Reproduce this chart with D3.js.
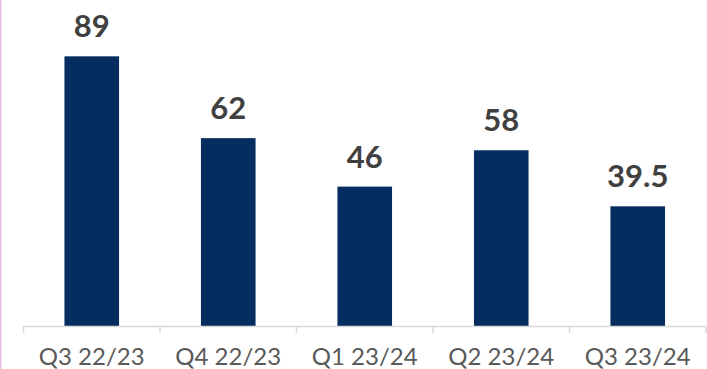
<!DOCTYPE html>
<html>
<head>
<meta charset="utf-8">
<script src="https://cdn.jsdelivr.net/npm/d3@7"></script>
<style>
  body { margin: 0; background: #fff; }
  svg { display: block; }
</style>
</head>
<body>
<svg id="chart"></svg>
<script>
const quarters = ["Q3 22/23", "Q4 22/23", "Q1 23/24", "Q2 23/24", "Q3 23/24"];
const values = [89, 62, 46, 58, 39.5];
const valueLabels = ["89", "62", "46", "58", "39.5"];

const W = 707, H = 369;
const margin = { top: 23, right: 1, bottom: 43, left: 23.5 };

const svg = d3.select("#chart").attr("width", W).attr("height", H);

// pink frame edge on the left
svg.append("line")
  .attr("x1", 0.5).attr("x2", 0.5)
  .attr("y1", 0).attr("y2", H)
  .attr("stroke", "#e8b4e2")
  .attr("stroke-width", 1.5);

const x = d3.scaleBand()
  .domain(quarters)
  .range([margin.left, W - margin.right])
  .paddingInner(0.6)
  .paddingOuter(0.3);

const y = d3.scaleLinear()
  .domain([0, 100])
  .range([H - margin.bottom, margin.top]);

const baseY = y(0);

svg.selectAll("rect.bar")
  .data(values)
  .enter()
  .append("rect")
  .attr("class", "bar")
  .attr("x", (d, i) => x(quarters[i]))
  .attr("y", d => y(d))
  .attr("width", x.bandwidth())
  .attr("height", d => baseY - y(d))
  .attr("fill", "#052d5f");

svg.selectAll("text.val")
  .data(values)
  .enter()
  .append("text")
  .attr("class", "val")
  .attr("x", (d, i) => x(quarters[i]) + x.bandwidth() / 2)
  .attr("y", d => y(d) - 19)
  .attr("text-anchor", "middle")
  .style("font-family", "Lato, 'Open Sans', sans-serif")
  .style("font-weight", "bold")
  .style("font-size", "31px")
  .style("fill", "#404040")
  .text((d, i) => valueLabels[i]);

// category axis with ticks between the categories
const axisX = d3.scaleLinear()
  .domain([0, quarters.length])
  .range([margin.left, W - margin.right]);

const axis = svg.append("g");
axis.append("line")
  .attr("x1", axisX(0)).attr("x2", axisX(quarters.length))
  .attr("y1", baseY + 0.5).attr("y2", baseY + 0.5)
  .attr("stroke", "#d9d9d9")
  .attr("stroke-width", 1.5);

axis.selectAll("line.tick")
  .data(d3.range(quarters.length + 1))
  .enter()
  .append("line")
  .attr("class", "tick")
  .attr("x1", d => axisX(d)).attr("x2", d => axisX(d))
  .attr("y1", baseY).attr("y2", baseY + 7)
  .attr("stroke", "#d9d9d9")
  .attr("stroke-width", 1.5);

axis.selectAll("text.lab")
  .data(quarters)
  .enter()
  .append("text")
  .attr("class", "lab")
  .attr("x", d => x(d) + x.bandwidth() / 2)
  .attr("y", H - 4)
  .attr("text-anchor", "middle")
  .style("font-family", "Lato, 'Open Sans', sans-serif")
  .style("font-size", "24px")
  .style("fill", "#595959")
  .text(d => d);
</script>
</body>
</html>
